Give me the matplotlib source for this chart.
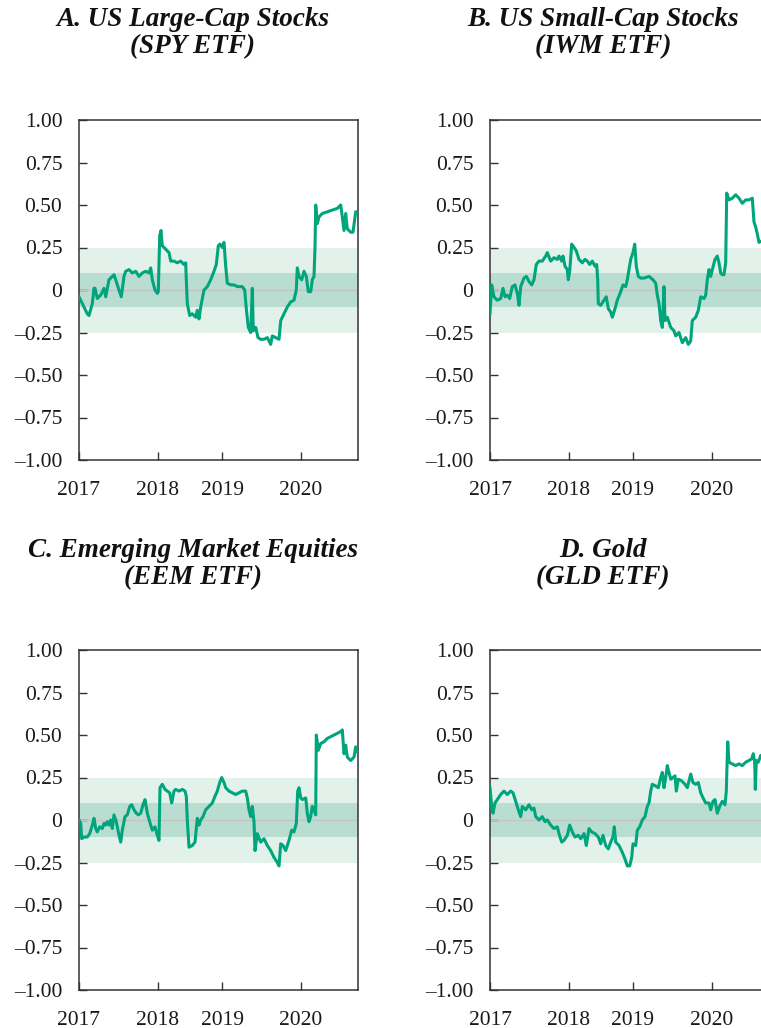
import matplotlib
matplotlib.use("Agg")
import matplotlib.pyplot as plt

# x positions are along the time axis (axis units, 2017 at 0, last obs at 279)
year_ticks = [0, 78.7, 143, 222]
year_labels = ["2017", "2018", "2019", "2020"]
y_ticks = [1.0, 0.75, 0.5, 0.25, 0, -0.25, -0.5, -0.75, -1.0]
y_labels = ["1.00", "0.75", "0.50", "0.25", "0", "\u20130.25", "\u20130.50", "\u20130.75", "\u20131.00"]

titles = [
    "A. US Large-Cap Stocks\n(SPY ETF)",
    "B. US Small-Cap Stocks\n(IWM ETF)",
    "C. Emerging Market Equities\n(EEM ETF)",
    "D. Gold\n(GLD ETF)",
]

spy_t = [0.0, 8.3, 10.0, 13.3, 15.0, 16.0, 18.3, 21.7, 25.0, 26.7, 30.0, 33.3, 35.0, 36.7, 40.0,
         42.3, 45.0, 46.7, 50.0, 53.3, 56.7, 60.0, 63.3, 66.7, 70.0, 71.7, 73.3, 76.0, 78.3, 79.3,
         80.7, 82.0, 83.3, 86.7, 90.0, 91.7, 95.0, 98.3, 101.7, 105.0, 106.7, 107.3, 108.3, 110.7,
         113.3, 116.7, 118.3, 120.0, 121.7, 125.0, 128.3, 131.7, 135.0, 137.3, 139.3, 141.0, 143.3,
         145.0, 146.7, 148.3, 151.7, 155.0, 158.3, 163.3, 165.7, 167.3, 169.3, 171.7, 173.3, 174.3,
         176.7, 179.0, 181.7, 185.0, 188.3, 191.7, 193.3, 196.7, 200.0, 201.7, 205.0, 208.3, 211.7,
         215.0, 217.3, 218.3, 220.0, 222.7, 225.0, 227.3, 229.3, 231.7, 233.3, 235.0, 236.0, 236.7,
         238.3, 240.0, 243.3, 248.3, 253.3, 258.3, 261.7, 263.3, 265.0, 266.7, 268.3, 271.7, 274.0,
         276.7, 278.3]
spy_v = [-0.04, -0.14, -0.15, -0.08, 0.01, 0.01, -0.05, -0.03, 0.01, -0.04, 0.06, 0.08, 0.09, 0.06, 0.00,
         -0.04, 0.08, 0.11, 0.12, 0.10, 0.11, 0.08, 0.10, 0.11, 0.10, 0.13, 0.06, 0.00, -0.02, -0.01,
         0.32, 0.35, 0.26, 0.24, 0.22, 0.17, 0.17, 0.16, 0.17, 0.15, 0.16, 0.06, -0.08, -0.15,
         -0.14, -0.16, -0.12, -0.17, -0.10, 0.00, 0.02, 0.06, 0.11, 0.15, 0.26, 0.27, 0.25,
         0.28, 0.14, 0.04, 0.03, 0.03, 0.02, 0.02, 0.00, -0.11, -0.22, -0.25, 0.01, -0.24,
         -0.22, -0.28, -0.29, -0.29, -0.28, -0.32, -0.27, -0.28, -0.29, -0.18, -0.14, -0.10, -0.07,
         -0.06, 0.00, 0.13, 0.08, 0.06, 0.11, 0.08, -0.01, -0.01, 0.06, 0.08, 0.25, 0.50,
         0.39, 0.43, 0.45, 0.46, 0.47, 0.48, 0.50, 0.43, 0.35, 0.45, 0.36, 0.34, 0.34,
         0.46, 0.46]

iwm_t = [0.0, 1.7, 4.0, 7.3, 10.7, 13.0, 15.0, 17.3, 19.7, 22.3, 25.0, 27.3, 29.0, 30.7, 34.0, 36.3,
         39.0, 41.7, 44.0, 46.3, 49.0, 52.3, 55.7, 57.3, 60.7, 64.0, 67.3, 69.0, 71.7, 73.0, 75.0,
         77.3, 78.3, 79.7, 81.7, 84.0, 86.3, 89.0, 92.3, 95.0, 97.3, 99.7, 102.3, 105.0, 106.7,
         107.7, 108.3, 110.7, 114.0, 116.3, 118.3, 120.7, 122.3, 125.0, 127.3, 130.7, 133.0, 135.7,
         137.3, 139.0, 140.7, 143.0, 144.7, 146.3, 148.3, 150.7, 154.0, 159.0, 163.0, 165.7, 167.3,
         169.0, 170.7, 172.3, 174.0, 175.0, 177.3, 180.7, 184.0, 185.7, 189.0, 192.3, 195.7, 198.3,
         200.7, 202.3, 205.7, 208.3, 210.7, 214.0, 215.7, 217.3, 219.0, 220.7, 222.3, 225.0, 227.3,
         229.0, 230.7, 232.3, 234.0, 235.7, 236.7, 239.0, 242.3, 245.7, 249.0, 252.3, 255.7, 259.0,
         262.3, 264.0, 265.7, 267.3, 269.0, 272.0, 279.0]
iwm_v = [-0.14, 0.03, -0.04, -0.06, -0.05, 0.01, -0.04, -0.03, -0.05, 0.02, 0.03, -0.02, -0.09, 0.02, 0.07, 0.08,
         0.05, 0.03, 0.06, 0.15, 0.17, 0.17, 0.20, 0.22, 0.17, 0.19, 0.18, 0.20, 0.17, 0.20, 0.14,
         0.12, 0.06, 0.11, 0.27, 0.25, 0.23, 0.18, 0.16, 0.18, 0.17, 0.15, 0.17, 0.14, 0.15,
         0.06, -0.08, -0.09, -0.06, -0.04, -0.11, -0.13, -0.16, -0.11, -0.06, -0.01, 0.03, 0.02,
         0.06, 0.12, 0.18, 0.22, 0.27, 0.14, 0.08, 0.07, 0.07, 0.08, 0.06, 0.04, -0.03,
         -0.08, -0.18, -0.22, 0.02, -0.18, -0.16, -0.22, -0.24, -0.27, -0.25, -0.31, -0.28, -0.32,
         -0.30, -0.18, -0.16, -0.12, -0.04, -0.05, -0.03, 0.06, 0.12, 0.08, 0.12, 0.18, 0.20,
         0.16, 0.10, 0.09, 0.09, 0.16, 0.57, 0.53, 0.54, 0.56, 0.54, 0.51, 0.53, 0.53,
         0.54, 0.40, 0.37, 0.33, 0.28, 0.29, 0.31]

eem_t = [0.0, 1.7, 2.7, 5.0, 8.3, 10.7, 13.3, 15.0, 16.7, 18.3, 20.7, 23.3, 25.0, 26.7, 28.3, 30.0,
         31.7, 33.3, 35.0, 37.3, 39.3, 41.7, 43.3, 46.0, 48.3, 50.7, 52.7, 55.0, 57.3, 59.3, 61.7,
         64.0, 66.0, 68.3, 70.7, 73.3, 76.0, 78.3, 80.0, 81.0, 83.3, 86.0, 88.3, 90.7, 92.7, 95.0,
         96.7, 100.0, 103.3, 106.0, 107.3, 108.3, 110.0, 113.3, 116.0, 118.3, 120.0, 121.7, 124.0,
         126.7, 130.0, 133.3, 136.0, 138.3, 140.7, 142.7, 145.0, 146.7, 150.0, 153.3, 156.7, 160.0,
         163.3, 166.7, 168.3, 170.0, 171.7, 173.3, 175.0, 176.0, 178.3, 181.7, 185.0, 188.3, 191.7,
         195.0, 198.3, 200.0, 201.7, 204.0, 206.7, 210.0, 212.7, 215.0, 217.3, 218.7, 220.0, 221.7,
         223.3, 226.7, 228.3, 230.0, 231.7, 233.3, 235.0, 236.7, 237.3, 239.3, 241.7, 245.0, 248.3,
         251.7, 255.0, 258.3, 261.7, 263.3, 265.0, 266.7, 268.3, 271.7, 275.0, 276.7, 278.7]
eem_v = [0.00, -0.02, -0.11, -0.10, -0.10, -0.08, -0.03, 0.01, -0.05, -0.07, -0.04, -0.05, -0.02, -0.03, -0.01, -0.03,
         0.00, -0.05, 0.03, -0.01, -0.07, -0.13, -0.06, 0.02, 0.03, 0.08, 0.09, 0.06, 0.04, 0.03, 0.04,
         0.09, 0.12, 0.04, -0.01, -0.06, -0.04, -0.09, -0.12, 0.19, 0.21, 0.18, 0.17, 0.16, 0.10, 0.17,
         0.18, 0.17, 0.18, 0.17, 0.14, 0.00, -0.16, -0.15, -0.13, 0.01, -0.03, 0.00, 0.02,
         0.06, 0.08, 0.10, 0.14, 0.17, 0.22, 0.25, 0.22, 0.19, 0.17, 0.16, 0.15, 0.16,
         0.17, 0.17, 0.13, 0.06, 0.02, 0.08, -0.01, -0.18, -0.08, -0.13, -0.11, -0.15, -0.18,
         -0.22, -0.25, -0.27, -0.14, -0.15, -0.18, -0.12, -0.06, -0.07, -0.02, 0.17, 0.19, 0.13,
         0.12, 0.13, 0.04, -0.01, 0.02, 0.08, 0.06, 0.03, 0.50, 0.41, 0.45, 0.46, 0.48,
         0.49, 0.50, 0.51, 0.52, 0.53, 0.39, 0.44, 0.37, 0.35, 0.37, 0.43, 0.40]

gld_t = [0.0, 1.7, 3.0, 5.0, 7.3, 10.7, 14.0, 17.3, 20.7, 23.0, 25.7, 28.3, 30.7, 32.3, 35.7, 39.0,
         41.7, 44.0, 45.7, 49.0, 52.3, 55.0, 57.3, 60.7, 64.0, 67.3, 69.0, 71.7, 74.0, 77.3, 79.7,
         82.3, 85.0, 88.3, 90.7, 94.0, 96.3, 99.0, 101.7, 105.0, 108.3, 110.7, 113.0, 115.7, 118.3,
         120.7, 123.0, 124.3, 125.7, 129.0, 132.3, 135.0, 137.3, 139.7, 141.7, 143.0, 145.7, 147.3,
         149.7, 152.3, 155.0, 157.3, 159.0, 160.7, 162.3, 165.7, 168.3, 170.7, 172.3, 174.0, 175.7,
         177.3, 179.0, 180.7, 183.0, 185.0, 186.3, 188.3, 191.7, 195.0, 197.3, 200.7, 203.0, 205.7,
         208.3, 210.7, 213.0, 215.7, 219.0, 220.7, 223.0, 225.0, 227.3, 229.7, 232.3, 235.0, 236.3,
         237.7, 239.0, 242.3, 245.7, 249.0, 252.3, 255.7, 259.0, 261.7, 263.3, 264.7, 265.3, 266.3,
         268.3, 270.7, 274.0, 279.0]
gld_v = [0.19, 0.08, 0.04, 0.10, 0.12, 0.15, 0.17, 0.15, 0.17, 0.16, 0.11, 0.06, 0.02, 0.08, 0.06, 0.09,
         0.06, 0.07, 0.02, 0.00, 0.02, -0.01, 0.00, -0.03, -0.05, -0.04, -0.08, -0.13, -0.12, -0.09, -0.03,
         -0.07, -0.10, -0.09, -0.11, -0.08, -0.15, -0.05, -0.07, -0.08, -0.10, -0.14, -0.09, -0.15, -0.17,
         -0.13, -0.10, -0.04, -0.13, -0.15, -0.19, -0.23, -0.27, -0.27, -0.22, -0.14, -0.15, -0.06,
         -0.04, 0.00, 0.02, 0.08, 0.10, 0.17, 0.21, 0.20, 0.19, 0.25, 0.28, 0.19, 0.25,
         0.32, 0.28, 0.24, 0.25, 0.26, 0.17, 0.24, 0.23, 0.21, 0.19, 0.27, 0.22, 0.21,
         0.22, 0.16, 0.13, 0.10, 0.10, 0.06, 0.11, 0.12, 0.04, 0.08, 0.11, 0.09, 0.17,
         0.46, 0.34, 0.33, 0.32, 0.33, 0.32, 0.34, 0.35, 0.36, 0.39, 0.34, 0.18, 0.35,
         0.34, 0.38, 0.37, 0.39]

series = [(spy_t, spy_v), (iwm_t, iwm_v), (eem_t, eem_v), (gld_t, gld_v)]

line_color = "#00a57c"
band_outer = "#e3f1eb"
band_inner = "#b9ded1"
serif = ["Liberation Serif", "DejaVu Serif"]

W, H = 761, 1028
fig = plt.figure(figsize=(W / 100, H / 100), dpi=100)

# axes boxes in pixels: left, top
boxes = [(79, 120), (490, 120), (79, 650), (490, 650)]
ax_w, ax_h = 279, 340
title_pos = [(193, 33), (603, 33), (193, 564), (603, 564)]

for i, (t, v) in enumerate(series):
    left, top = boxes[i]
    ax = fig.add_axes([left / W, (H - top - ax_h) / H, ax_w / W, ax_h / H])
    ax.axhspan(-0.25, 0.25, color=band_outer, lw=0, zorder=0)
    ax.axhspan(-0.1, 0.1, color=band_inner, lw=0, zorder=1)
    ax.axhline(0, color="#c4c4c4", lw=1.0, zorder=2)
    ax.plot(t, v, color=line_color, lw=2.2, zorder=3)
    ax.set_xlim(0, 279)
    ax.set_ylim(-1, 1)
    ax.set_xticks(year_ticks)
    ax.set_xticklabels(year_labels)
    ax.set_yticks(y_ticks)
    ax.set_yticklabels(y_labels)
    ax.tick_params(direction="in", length=6, width=1.0, color="#333333",
                   labelsize=15.5)
    ax.tick_params(axis="y", pad=12)
    ax.tick_params(axis="x", pad=15)
    for lab in ax.get_xticklabels() + ax.get_yticklabels():
        lab.set_family(serif)
        lab.set_color("#1a1a1a")
    for sp in ax.spines.values():
        sp.set_linewidth(1.1)
        sp.set_color("#333333")

    tx, ty = title_pos[i]
    fig.text(tx / W, 1 - ty / H, titles[i], ha="center", va="center",
             fontsize=19.5, fontweight="bold", fontstyle="italic",
             family=serif, linespacing=1.08, color="#111111")

fig.savefig("out.png", dpi=100)
